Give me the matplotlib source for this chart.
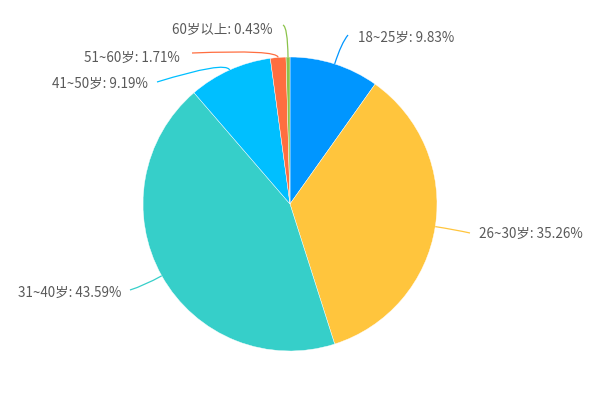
import numpy as np
import matplotlib
matplotlib.use("Agg")
import matplotlib.pyplot as plt
from matplotlib.path import Path
from matplotlib.patches import PathPatch

plt.rcParams['font.family'] = ['Noto Sans CJK SC', 'DejaVu Sans']

# ---- data ----
categories = ["18~25岁", "26~30岁", "31~40岁", "41~50岁", "51~60岁", "60岁以上"]
values = [9.83, 35.26, 43.59, 9.19, 1.71, 0.43]
colors = ["#0096FF", "#FFC53D", "#36CFC9", "#00BFFF", "#FF6E40", "#8BC34A"]

# ---- layout (pixel coordinates, y downward) ----
W, H = 600, 400
cx, cy, R = 290, 204, 147
# radial first-segment length, line end point, text anchor, ha
leader_len = [22, 20, 20, 10, 8, 30]
line_end = [(348, 35), (470, 233), (130, 290), (157, 82), (192, 53), (283, 25)]
text_pos = [(358, 38), (479, 234), (121, 293), (148, 84), (180, 58), (272, 30)]
text_ha = ["left", "left", "right", "right", "right", "right"]

fig = plt.figure(figsize=(W / 100, H / 100), dpi=100)
ax = fig.add_axes([0, 0, 1, 1])

def P(x, y):
    return (x, H - y)

ax.pie(values, colors=colors, startangle=90, counterclock=False,
       center=P(cx, cy), radius=R,
       wedgeprops=dict(linewidth=0.3, edgecolor="white"))
ax.set_xlim(0, W)
ax.set_ylim(0, H)
ax.set_aspect("equal", adjustable="box")
ax.axis("off")

total = sum(values)
cum = np.cumsum([0] + values)
for i, (cat, v) in enumerate(zip(categories, values)):
    mid = (cum[i] + cum[i + 1]) / 2 / total * 2 * np.pi
    dx, dy = np.sin(mid), -np.cos(mid)
    ex, ey = cx + R * dx, cy + R * dy
    kx, ky = ex + leader_len[i] * dx, ey + leader_len[i] * dy
    path = Path([P(ex, ey), P(kx, ky), P(*line_end[i])],
                [Path.MOVETO, Path.CURVE3, Path.CURVE3])
    ax.add_patch(PathPatch(path, facecolor="none", edgecolor=colors[i], lw=0.9))
    ax.text(*P(*text_pos[i]), f"{cat}: {v:.2f}%", ha=text_ha[i], va="center",
            fontsize=9.7, color="#595959")

fig.savefig("out.png", dpi=100)
